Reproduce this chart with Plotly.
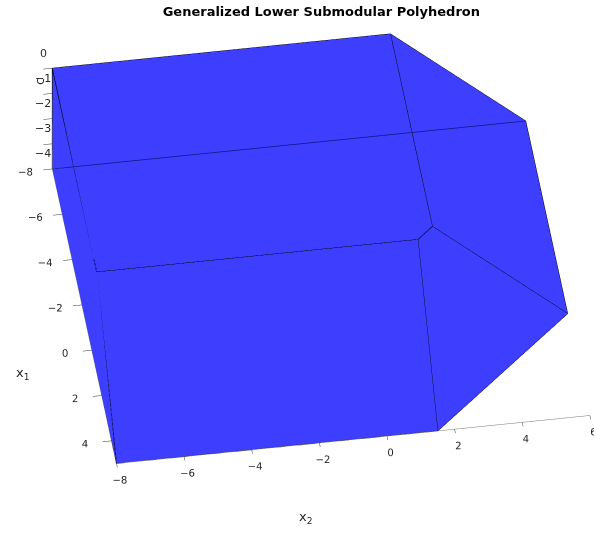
import plotly.graph_objects as go

# Set function values f({1}), f({2}), f({1,2}) and the box limits
f1 = 1.0
f2 = 2.0
f12 = 2.5
lower_bound = -8.0
c_levels = [0.0, -4.0]          # top and bottom of the c range

x1_ticks = [-8, -6, -4, -2, 0, 2, 4]
x2_ticks = [-8, -6, -4, -2, 0, 2, 4, 6]
c_ticks = [-4, -3, -2, -1, 0]

FACE = "rgb(62,62,255)"
EDGE = "black"
HIDDEN_EDGE = "rgb(20,20,130)"
TEXT = "rgb(40,40,40)"


def level_polygon(c):
    """Corners (x1, x2) of the polyhedron's slice at height c."""
    return [
        (lower_bound, lower_bound),
        (lower_bound, f2 - c),
        (f12 - f2, f2 - c),
        (f1 - c, f12 - f1),
        (f1 - c, lower_bound),
    ]


top = level_polygon(c_levels[0])
bot = level_polygon(c_levels[1])
n = len(top)

X = [p[0] for p in top] + [p[0] for p in bot]      # x1
Y = [p[1] for p in top] + [p[1] for p in bot]      # x2
Z = [c_levels[0]] * n + [c_levels[1]] * n          # c

top_face = list(range(n))
bottom_face = list(range(n, 2 * n))[::-1]
sides = []
for k in range(n):
    a, b = k, (k + 1) % n
    sides.append([a, b, b + n, a + n])

# Faces turned away from the camera (bottom, x1 = lower_bound) and the rest
back_faces = [bottom_face, sides[0]]
front_faces = [top_face] + sides[1:]


def triangles(face_list):
    I, J, K = [], [], []
    for f in face_list:
        for t in range(1, len(f) - 1):
            I.append(f[0]); J.append(f[t]); K.append(f[t + 1])
    return I, J, K


def edge_set(face_list):
    out = set()
    for f in face_list:
        for t in range(len(f)):
            a, b = f[t], f[(t + 1) % len(f)]
            if (X[a], Y[a], Z[a]) != (X[b], Y[b], Z[b]):
                out.add(tuple(sorted((a, b))))
    return out


def edge_trace(edges, color, scene):
    ex, ey, ez = [], [], []
    for a, b in sorted(edges):
        ex += [X[a], X[b], None]
        ey += [Y[a], Y[b], None]
        ez += [Z[a], Z[b], None]
    return go.Scatter3d(x=ex, y=ey, z=ez, mode="lines",
                        line=dict(color=color, width=1.5), scene=scene,
                        hoverinfo="skip", showlegend=False)


flat = dict(ambient=1, diffuse=0, specular=0, fresnel=0, roughness=1)
front_edges = edge_set(front_faces)
hidden_edges = edge_set(back_faces) - front_edges

fig = go.Figure()
ti, tj, tk = triangles(back_faces + front_faces)
fig.add_trace(go.Mesh3d(x=X, y=Y, z=Z, i=ti, j=tj, k=tk, color=FACE,
                        flatshading=True, lighting=flat, hoverinfo="skip",
                        scene="scene"))
fig.add_trace(edge_trace(front_edges, EDGE, "scene"))
# the edge behind the solid, drawn in an overlaid scene with the same view
fig.add_trace(edge_trace(hidden_edges, HIDDEN_EDGE, "scene2"))

tick_font = dict(family="DejaVu Sans", size=11, color=TEXT)
axis_common = dict(showgrid=False, showbackground=False, zeroline=False,
                   showline=True, linecolor="rgb(120,120,120)", linewidth=1,
                   ticks="outside", ticklen=6, tickcolor="rgb(60,60,60)",
                   tickfont=tick_font, tickangle=0,
                   showspikes=False, title=dict(text=""))
hidden_axis = dict(visible=False, showspikes=False)

# c tick labels sit beside the vertical axis at the x1 = x2 = lower_bound corner
c_labels = [dict(x=lower_bound, y=lower_bound, z=v,
                 text=str(v).replace("-", "\u2212"), showarrow=False,
                 xanchor="center", yanchor="middle", xshift=-9, yshift=15,
                 font=tick_font) for v in c_ticks]

d = (0.723, -0.1075, 0.682)
ctr = (0.0492, -0.0986, -0.0676)
s = 1.93 * 1.027 * 0.906
camera = dict(eye=dict(x=ctr[0] + d[0], y=ctr[1] + d[1], z=ctr[2] + d[2]),
              up=dict(x=0, y=0, z=1),
              center=dict(x=ctr[0], y=ctr[1], z=ctr[2]),
              projection=dict(type="orthographic"))
aspect = dict(x=0.912 * s, y=1.0 * s, z=0.288 * s)
full = dict(x=[0, 1], y=[0, 1])

label_font = dict(family="DejaVu Sans", size=13, color=TEXT)
fig.update_layout(
    width=594, height=533,
    margin=dict(l=0, r=0, t=0, b=0),
    paper_bgcolor="white",
    title=dict(text="<b>Generalized Lower Submodular Polyhedron</b>",
               x=0.541, xanchor="center", y=0.979, yanchor="middle",
               font=dict(family="DejaVu Sans", size=13, color="black")),
    scene=dict(
        domain=full,
        xaxis=dict(axis_common, range=[-8, 5], tickvals=x1_ticks),
        yaxis=dict(axis_common, range=[-8, 6], tickvals=x2_ticks, ticklen=9),
        zaxis=dict(axis_common, range=[-4, 0], tickvals=c_ticks,
                   showticklabels=False),
        aspectmode="manual", aspectratio=aspect, camera=camera,
        annotations=c_labels,
    ),
    scene2=dict(
        domain=full, bgcolor="rgba(0,0,0,0)",
        xaxis=dict(hidden_axis, range=[-8, 5]),
        yaxis=dict(hidden_axis, range=[-8, 6]),
        zaxis=dict(hidden_axis, range=[-4, 0]),
        aspectmode="manual", aspectratio=aspect, camera=camera,
    ),
    annotations=[
        dict(text="x<sub>1</sub>", x=14 / 594, y=1 - 384 / 533, xref="paper", yref="paper",
             showarrow=False, font=label_font),
        dict(text="x<sub>2</sub>", x=306 / 594, y=1 - 528 / 533, xref="paper", yref="paper",
             showarrow=False, font=label_font),
        dict(text="c", x=30 / 594, y=1 - 76 / 533, xref="paper", yref="paper",
             showarrow=False, textangle=-90, font=label_font),
    ],
)

fig.write_html("out.html")
